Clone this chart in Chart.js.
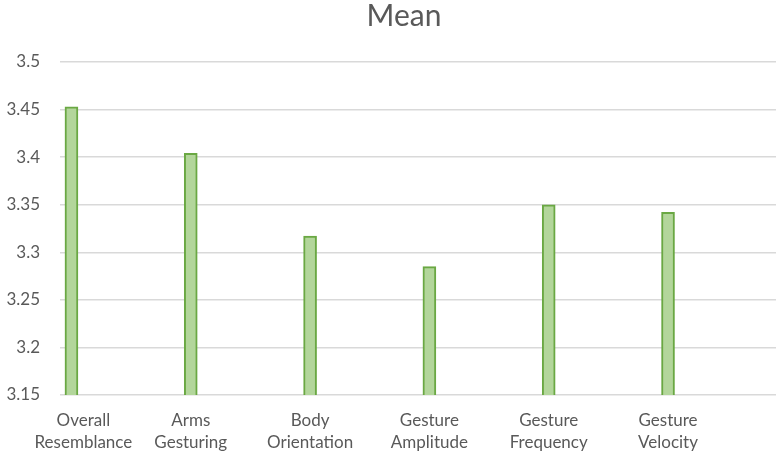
<!DOCTYPE html>
<html>
<head>
<meta charset="utf-8">
<script src="https://cdn.jsdelivr.net/npm/chart.js@4"></script>
<style>
  html, body { margin: 0; padding: 0; background: #fff; }
  #wrap { width: 780px; height: 461px; }
</style>
</head>
<body>
<div id="wrap"><canvas id="myChart" width="780" height="461"></canvas></div>
<script>
const categories = ['Overall Resemblance', 'Arms Gesturing', 'Body Orientation', 'Gesture Amplitude', 'Gesture Frequency', 'Gesture Velocity'];
const meanValues = [3.453, 3.404, 3.317, 3.285, 3.350, 3.342];
const yTicks = [3.15, 3.2, 3.25, 3.3, 3.35, 3.4, 3.45, 3.5];
const chartTitle = 'Mean';

const textColor = '#595959';
const gridColor = '#d9d9d9';

// title drawn by hand so it sits where the original one does
const titlePlugin = {
    id: 'manualTitle',
    afterDraw(chart) {
        const ctx = chart.ctx;
        ctx.save();
        ctx.fillStyle = textColor;
        ctx.font = '30px Lato';
        ctx.textAlign = 'center';
        ctx.textBaseline = 'middle';
        ctx.fillText(chartTitle, 404, 16);
        ctx.restore();
    }
};

const ctx = document.getElementById('myChart').getContext('2d');
const myChart = new Chart(ctx, {
    type: 'bar',
    data: {
        datasets: [{
            label: chartTitle,
            data: meanValues.map((v, i) => ({ x: i, y: v })),
            backgroundColor: '#b3d69b',
            borderColor: '#6aa843',
            borderWidth: 2,
            borderSkipped: 'bottom',
            barThickness: 13
        }]
    },
    options: {
        responsive: false,
        animation: false,
        layout: { padding: { top: 62, right: 4, left: 0, bottom: 0 } },
        plugins: {
            legend: { display: false },
            title: { display: false },
            tooltip: { enabled: false }
        },
        scales: {
            x: {
                type: 'linear',
                offset: false,
                min: -0.096,
                max: 5.905,
                grid: { display: false, drawTicks: false, offset: false },
                border: { display: false },
                afterFit: scale => { scale.height = 66; },
                // one tick under each bar; the first label is nudged right so it stays inside
                afterBuildTicks: scale => {
                    scale.ticks = categories.map((c, i) => ({ value: i === 0 ? 0.1 : i }));
                },
                ticks: {
                    autoSkip: false,
                    maxRotation: 0,
                    padding: 14,
                    color: textColor,
                    font: { family: 'Lato', size: 17, lineHeight: 1.3 },
                    callback: value => {
                        const label = categories[Math.round(value)];
                        return label ? label.split(' ') : '';
                    }
                }
            },
            y: {
                min: 3.15,
                max: 3.5,
                afterFit: scale => { scale.width = 60; },
                afterBuildTicks: scale => { scale.ticks = yTicks.map(v => ({ value: v })); },
                grid: { color: gridColor, lineWidth: 1.5, drawTicks: false },
                border: { display: false },
                ticks: {
                    padding: 20,
                    color: textColor,
                    font: { family: 'Lato', size: 17 },
                    callback: value => String(parseFloat(value.toFixed(2)))
                }
            }
        }
    },
    plugins: [titlePlugin]
});
</script>
</body>
</html>
